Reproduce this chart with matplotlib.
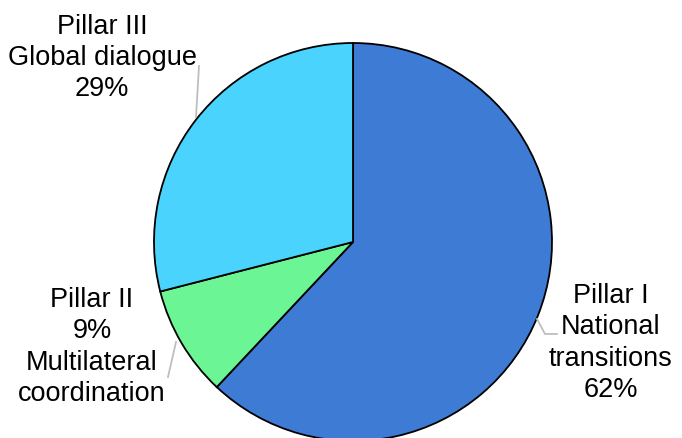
"""Funding split across the three pillars, drawn as a pie chart."""

import matplotlib.pyplot as plt

plt.rcParams["font.family"] = ["Liberation Sans", "DejaVu Sans"]

pillars = ["Pillar I", "Pillar II", "Pillar III"]
topics = ["National\ntransitions", "Multilateral\ncoordination", "Global dialogue"]
shares = [62, 9, 29]
colors = ["#3E7BD4", "#6CF595", "#49D3FD"]

W, H = 682, 439


def flip(y):
    # pixel rows run downward, data y runs upward
    return H - y


fig = plt.figure(figsize=(W / 100, H / 100), dpi=100)
ax = fig.add_axes([0, 0, 1, 1])

ax.pie(
    shares,
    colors=colors,
    startangle=90,
    counterclock=False,
    center=(353, flip(243)),
    radius=199,
    wedgeprops={"edgecolor": "black", "linewidth": 1.3},
)

ax.set_xlim(0, W)
ax.set_ylim(0, H)
ax.set_aspect("equal")
ax.axis("off")

text_kw = dict(fontsize=19.5, ha="center", va="center", linespacing=1.26)
line_kw = dict(color="#BEBEBE", linewidth=1.3)

# Pillar I, right side
ax.text(611, flip(343), f"{pillars[0]}\n{topics[0]}\n{shares[0]}%", **text_kw)
ax.plot([537, 545, 557], [flip(320), flip(335), flip(335)], **line_kw)

# Pillar II, lower left
ax.text(92, flip(347), f"{pillars[1]}\n{shares[1]}%\n{topics[1]}", **text_kw)
ax.plot([176, 168], [flip(343), flip(378)], **line_kw)

# Pillar III, upper left
ax.text(102, flip(58), f"{pillars[2]}\n{topics[2]}\n{shares[2]}%", **text_kw)
ax.plot([199, 196], [flip(67), flip(118)], **line_kw)

fig.savefig("out.png", dpi=100)
